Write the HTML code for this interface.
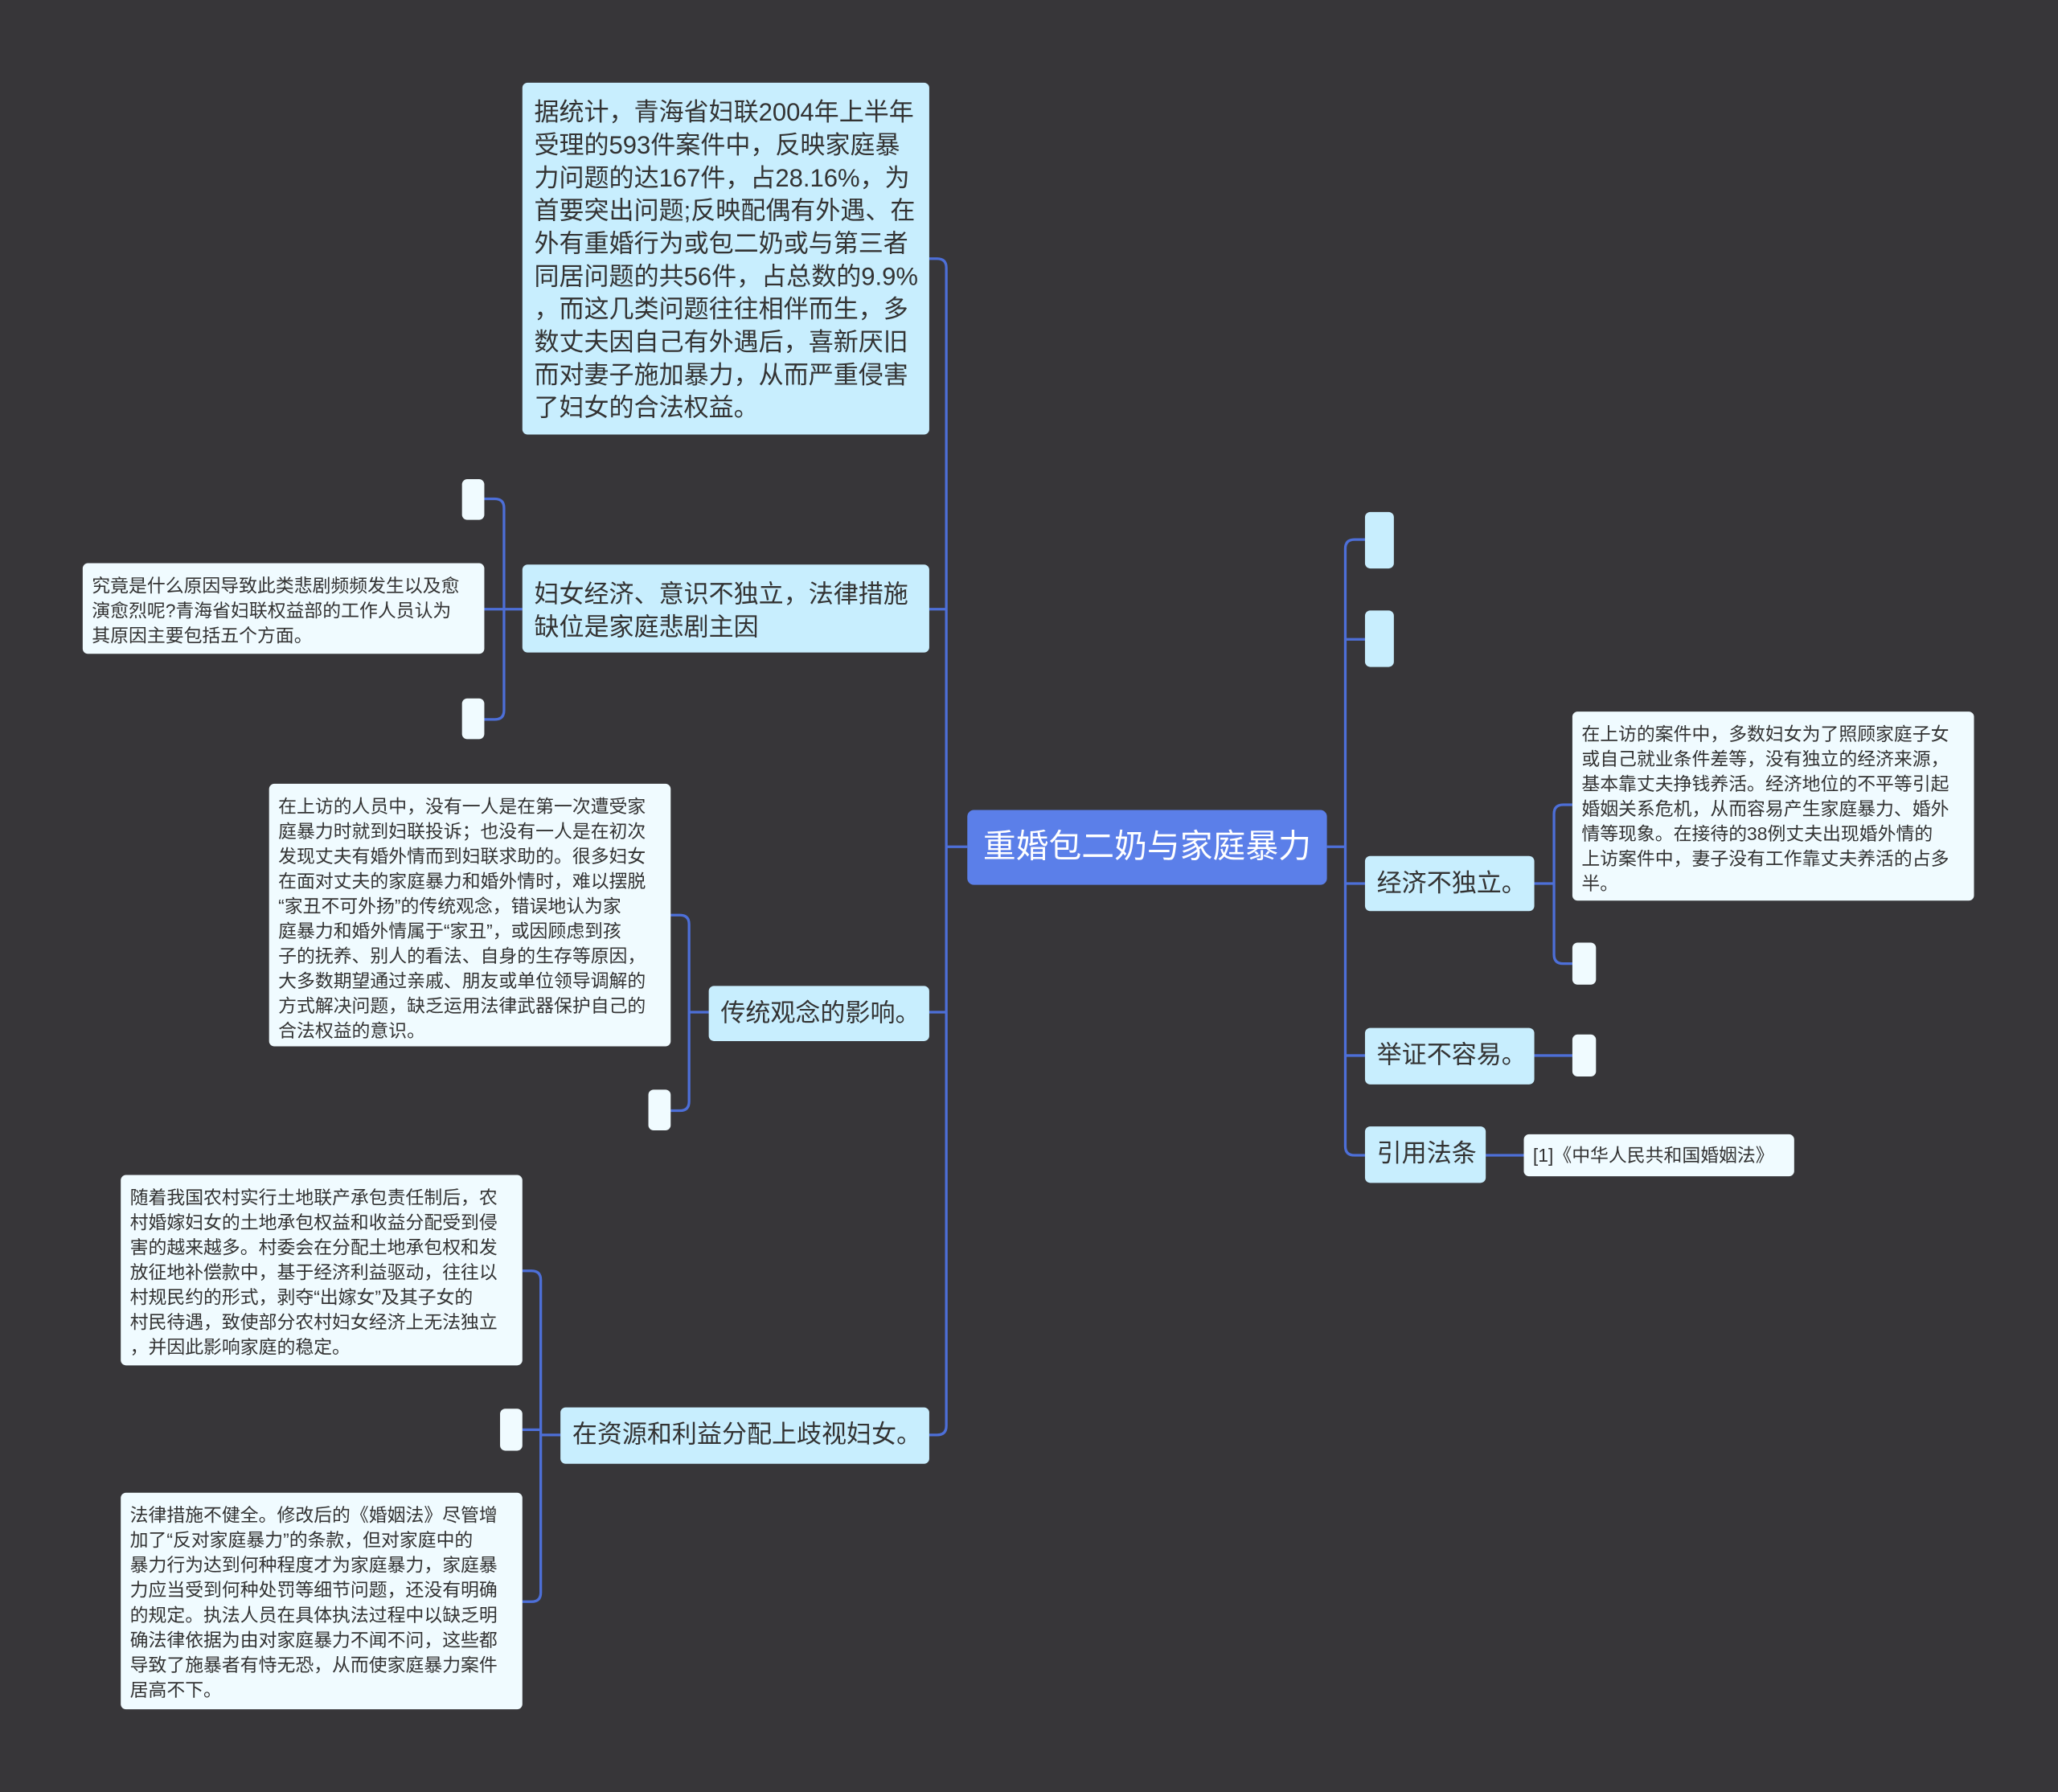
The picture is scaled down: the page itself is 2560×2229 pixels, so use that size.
<!DOCTYPE html>
<html><head><meta charset="utf-8"><style>
html,body{margin:0;padding:0;background:#373639;}
#wrap{position:relative;width:1568px;height:1365px;transform:scale(1.63265,1.633);transform-origin:0 0;font-family:"Liberation Sans","Noto Sans CJK SC",sans-serif;}
.n{position:absolute;box-sizing:border-box;border-radius:4px;white-space:nowrap;color:#333;}
.b{background:#c8eefe;font-size:19px;line-height:25px;padding:11px 9px 8px;}
.l{background:#f0fbff;font-size:14px;line-height:19px;padding:8px 7px 6px;}
.s{background:#f0fbff;}
.r{background:#5b7fe9;color:#fff;font-size:25px;line-height:57px;text-align:center;border-radius:5px;}
svg{position:absolute;left:0;top:0;}
</style></head><body><div id="wrap">
<svg width="1568" height="1365" fill="none" stroke="#4d6fd8" stroke-width="2">
<path d="M708 197 H714 Q721 197 721 204 V1086 Q721 1093 714 1093 H708"/>
<path d="M708 464 H721 M708 771 H721 M721 645 H737"/>
<path d="M398 464 H384 M369 380 H377 Q384 380 384 387 V541 Q384 548 377 548 H369 M369 464 H384"/>
<path d="M540 771 H525 M511 697 H518 Q525 697 525 704 V839 Q525 846 518 846 H511"/>
<path d="M427 1093 H412 M398 968 H405 Q412 968 412 975 V1213 Q412 1220 405 1220 H398 M398 1089 H412"/>
<path d="M1011 645 H1025 M1040 411 H1032 Q1025 411 1025 418 V873 Q1025 880 1032 880 H1040 M1040 487 H1025 M1040 673 H1025 M1040 804 H1025"/>
<path d="M1169 673 H1184 M1198 613 H1191 Q1184 613 1184 620 V727 Q1184 734 1191 734 H1198"/>
<path d="M1169 804 H1198 M1132 880 H1161"/>
</svg>
<div class="n b" style="left:398px;top:63px;width:310px;height:268px">据统计，青海省妇联2004年上半年<br>受理的593件案件中，反映家庭暴<br>力问题的达167件，占28.16%，为<br>首要突出问题;反映配偶有外遇、在<br>外有重婚行为或包二奶或与第三者<br>同居问题的共56件，占总数的9.9%<br>，而这几类问题往往相伴而生，多<br>数丈夫因自己有外遇后，喜新厌旧<br>而对妻子施加暴力，从而严重侵害<br>了妇女的合法权益。</div>
<div class="n b" style="left:398px;top:430px;width:310px;height:67px">妇女经济、意识不独立，法律措施<br>缺位是家庭悲剧主因</div>
<div class="n l" style="left:63px;top:429px;width:306px;height:69px">究竟是什么原因导致此类悲剧频频发生以及愈<br>演愈烈呢?青海省妇联权益部的工作人员认为<br>其原因主要包括五个方面。</div>
<div class="n s" style="left:352px;top:365px;width:17px;height:31px"></div>
<div class="n s" style="left:352px;top:532px;width:17px;height:31px"></div>
<div class="n r" style="left:737px;top:617px;width:274px;height:57px">重婚包二奶与家庭暴力</div>
<div class="n b" style="left:540px;top:751px;width:168px;height:42px;padding:9px 9px">传统观念的影响。</div>
<div class="n l" style="left:205px;top:597px;width:306px;height:200px">在上访的人员中，没有一人是在第一次遭受家<br>庭暴力时就到妇联投诉；也没有一人是在初次<br>发现丈夫有婚外情而到妇联求助的。很多妇女<br>在面对丈夫的家庭暴力和婚外情时，难以摆脱<br>“家丑不可外扬”的传统观念，错误地认为家<br>庭暴力和婚外情属于“家丑”，或因顾虑到孩<br>子的抚养、别人的看法、自身的生存等原因，<br>大多数期望通过亲戚、朋友或单位领导调解的<br>方式解决问题，缺乏运用法律武器保护自己的<br>合法权益的意识。</div>
<div class="n s" style="left:494px;top:830px;width:17px;height:31px"></div>
<div class="n b" style="left:427px;top:1072px;width:281px;height:43px;padding:9px 9px">在资源和利益分配上歧视妇女。</div>
<div class="n l" style="left:92px;top:895px;width:306px;height:145px">随着我国农村实行土地联产承包责任制后，农<br>村婚嫁妇女的土地承包权益和收益分配受到侵<br>害的越来越多。村委会在分配土地承包权和发<br>放征地补偿款中，基于经济利益驱动，往往以<br>村规民约的形式，剥夺“出嫁女”及其子女的<br>村民待遇，致使部分农村妇女经济上无法独立<br>，并因此影响家庭的稳定。</div>
<div class="n s" style="left:381px;top:1073px;width:17px;height:32px"></div>
<div class="n l" style="left:92px;top:1137px;width:306px;height:165px">法律措施不健全。修改后的《婚姻法》尽管增<br>加了“反对家庭暴力”的条款，但对家庭中的<br>暴力行为达到何种程度才为家庭暴力，家庭暴<br>力应当受到何种处罚等细节问题，还没有明确<br>的规定。执法人员在具体执法过程中以缺乏明<br>确法律依据为由对家庭暴力不闻不问，这些都<br>导致了施暴者有恃无恐，从而使家庭暴力案件<br>居高不下。</div>
<div class="n s" style="left:1040px;top:390px;width:22px;height:43px;background:#c8eefe"></div>
<div class="n s" style="left:1040px;top:465px;width:22px;height:43px;background:#c8eefe"></div>
<div class="n b" style="left:1040px;top:652px;width:129px;height:42px;padding:9px 9px">经济不独立。</div>
<div class="n l" style="left:1198px;top:542px;width:306px;height:144px">在上访的案件中，多数妇女为了照顾家庭子女<br>或自己就业条件差等，没有独立的经济来源，<br>基本靠丈夫挣钱养活。经济地位的不平等引起<br>婚姻关系危机，从而容易产生家庭暴力、婚外<br>情等现象。在接待的38例丈夫出现婚外情的<br>上访案件中，妻子没有工作靠丈夫养活的占多<br>半。</div>
<div class="n s" style="left:1198px;top:718px;width:18px;height:32px"></div>
<div class="n b" style="left:1040px;top:783px;width:129px;height:43px;padding:9px 9px">举证不容易。</div>
<div class="n s" style="left:1198px;top:788px;width:18px;height:32px"></div>
<div class="n b" style="left:1040px;top:858px;width:92px;height:43px;padding:9px 9px">引用法条</div>
<div class="n l" style="left:1161px;top:864px;width:206px;height:32px;line-height:20px;padding:6px 7px">[1]《中华人民共和国婚姻法》</div>
</div></body></html>
